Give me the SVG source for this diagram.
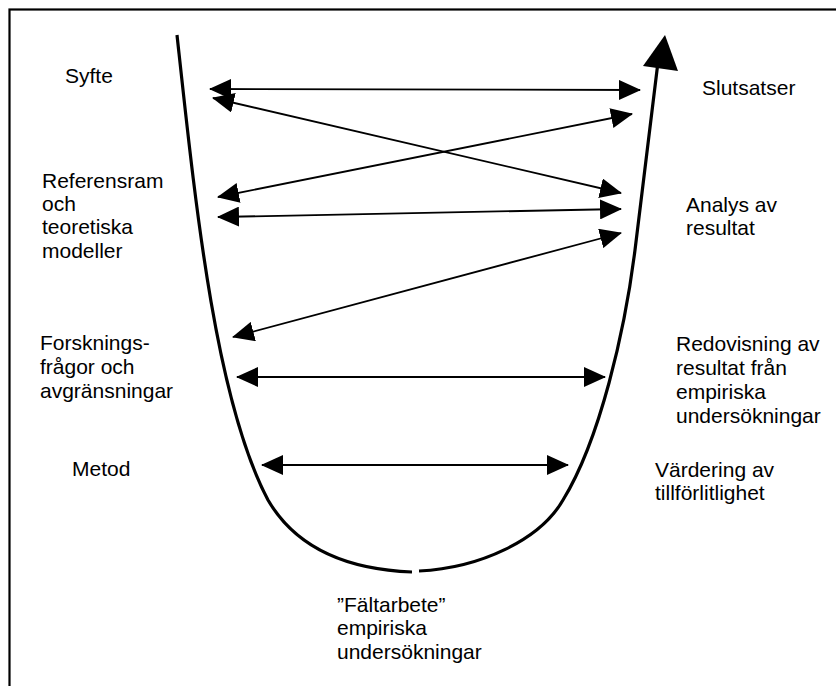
<svg xmlns="http://www.w3.org/2000/svg" width="836" height="686" viewBox="0 0 836 686">
  <style>
    .lbl { font-family: "Liberation Sans", Arial, sans-serif; font-size: 21px; fill: #000; }
    .link { stroke: #000; stroke-width: 1.8; fill: none; marker-start: url(#head); marker-end: url(#head); }
    .curve { stroke: #000; stroke-width: 3.2; fill: none; }
  </style>
  <defs>
    <marker id="head" viewBox="0 0 22 20" markerWidth="22" markerHeight="20" refX="21" refY="10" markerUnits="userSpaceOnUse" orient="auto-start-reverse">
      <path d="M0,0 L22,10 L0,20 z" fill="#000"/>
    </marker>
  </defs>

  <rect width="836" height="686" fill="#fff"/>
  <!-- frame, open to the right and bottom -->
  <rect x="9.5" y="9.5" width="860" height="720" fill="none" stroke="#000" stroke-width="2.2"/>

  <!-- process curve: descending left branch and ascending right branch -->
  <g id="curve">
    <path class="curve" d="M177,35 C195,200 215,400 268,500 C300,555 360,570 412,572"/>
    <path class="curve" d="M419,571 C480,568 540,540 563,500 C600,440 625,330 635,250 L658,62"/>
    <polygon points="665,35 643,66 678,71" fill="#000"/>
  </g>

  <!-- left column -->
  <g id="syfte"><text class="lbl" x="65" y="83">Syfte</text></g>
  <g id="referensram">
    <text class="lbl" x="42" y="188">Referensram</text>
    <text class="lbl" x="42" y="211">och</text>
    <text class="lbl" x="42" y="234">teoretiska</text>
    <text class="lbl" x="42" y="258">modeller</text>
  </g>
  <g id="forskningsfragor">
    <text class="lbl" x="40" y="350">Forsknings-</text>
    <text class="lbl" x="40" y="374">frågor och</text>
    <text class="lbl" x="40" y="398">avgränsningar</text>
  </g>
  <g id="metod"><text class="lbl" x="72" y="476">Metod</text></g>

  <!-- right column -->
  <g id="slutsatser"><text class="lbl" x="702" y="95">Slutsatser</text></g>
  <g id="analys">
    <text class="lbl" x="686" y="212">Analys av</text>
    <text class="lbl" x="686" y="235">resultat</text>
  </g>
  <g id="redovisning">
    <text class="lbl" x="676" y="351">Redovisning av</text>
    <text class="lbl" x="676" y="375">resultat från</text>
    <text class="lbl" x="676" y="399">empiriska</text>
    <text class="lbl" x="676" y="423">undersökningar</text>
  </g>
  <g id="vardering">
    <text class="lbl" x="655" y="477">Värdering av</text>
    <text class="lbl" x="655" y="500">tillförlitlighet</text>
  </g>

  <!-- bottom -->
  <g id="faltarbete">
    <text class="lbl" x="337" y="612">”Fältarbete”</text>
    <text class="lbl" x="337" y="635">empiriska</text>
    <text class="lbl" x="337" y="659">undersökningar</text>
  </g>

  <!-- two-way connectors -->
  <g id="connectors">
    <line class="link" x1="210" y1="89" x2="640" y2="90"/>
    <line class="link" x1="213" y1="98" x2="621" y2="193"/>
    <line class="link" x1="218" y1="197" x2="632" y2="114"/>
    <line class="link" x1="218" y1="217" x2="621" y2="209"/>
    <line class="link" x1="233" y1="337" x2="621" y2="233"/>
    <line class="link" x1="237" y1="377" x2="605" y2="377"/>
    <line class="link" x1="262" y1="465" x2="568" y2="465"/>
  </g>
</svg>
